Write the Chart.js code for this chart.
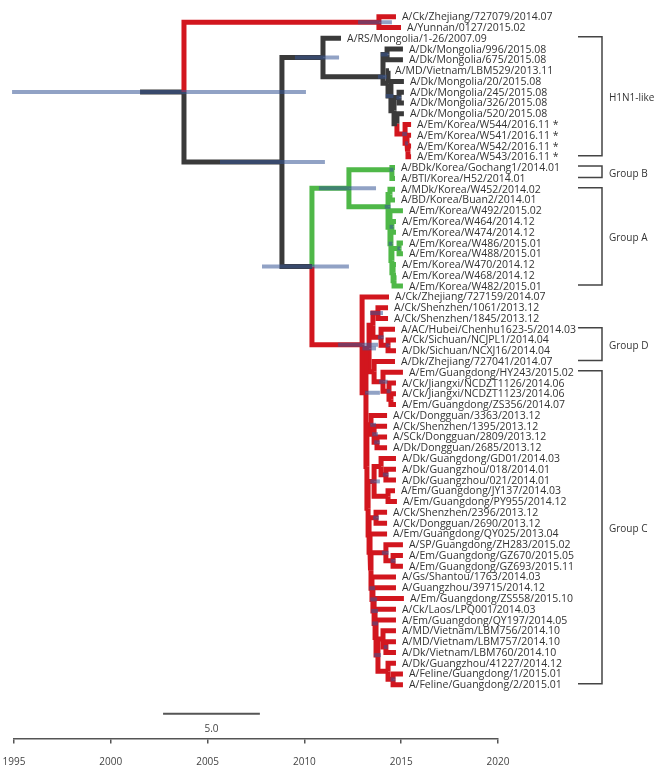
<!DOCTYPE html>
<html><head><meta charset="utf-8">
<script src="https://cdn.jsdelivr.net/npm/chart.js@4.4.0/dist/chart.umd.min.js"></script>
<style>html,body{margin:0;padding:0;background:#fff;}canvas{display:block;}</style>
</head><body>
<canvas id="c" width="665" height="771"></canvas>
<script>
// ---------- DATA ----------
const yearTicks = [1995, 2000, 2005, 2010, 2015, 2020];

const tipLabels = [
 'A/Ck/Zhejiang/727079/2014.07','A/Yunnan/0127/2015.02','A/RS/Mongolia/1-26/2007.09',
 'A/Dk/Mongolia/996/2015.08','A/Dk/Mongolia/675/2015.08','A/MD/Vietnam/LBM529/2013.11',
 'A/Dk/Mongolia/20/2015.08','A/Dk/Mongolia/245/2015.08','A/Dk/Mongolia/326/2015.08',
 'A/Dk/Mongolia/520/2015.08','A/Em/Korea/W544/2016.11 *','A/Em/Korea/W541/2016.11 *',
 'A/Em/Korea/W542/2016.11 *','A/Em/Korea/W543/2016.11 *','A/BDk/Korea/Gochang1/2014.01',
 'A/BTl/Korea/H52/2014.01','A/MDk/Korea/W452/2014.02','A/BD/Korea/Buan2/2014.01',
 'A/Em/Korea/W492/2015.02','A/Em/Korea/W464/2014.12','A/Em/Korea/W474/2014.12',
 'A/Em/Korea/W486/2015.01','A/Em/Korea/W488/2015.01','A/Em/Korea/W470/2014.12',
 'A/Em/Korea/W468/2014.12','A/Em/Korea/W482/2015.01','A/Ck/Zhejiang/727159/2014.07',
 'A/Ck/Shenzhen/1061/2013.12','A/Ck/Shenzhen/1845/2013.12','A/AC/Hubei/Chenhu1623-5/2014.03',
 'A/Ck/Sichuan/NCJPL1/2014.04','A/Dk/Sichuan/NCXJ16/2014.04','A/Dk/Zhejiang/727041/2014.07',
 'A/Em/Guangdong/HY243/2015.02','A/Ck/Jiangxi/NCDZT1126/2014.06','A/Ck/Jiangxi/NCDZT1123/2014.06',
 'A/Em/Guangdong/ZS356/2014.07','A/Ck/Dongguan/3363/2013.12','A/Ck/Shenzhen/1395/2013.12',
 'A/SCk/Dongguan/2809/2013.12','A/Dk/Dongguan/2685/2013.12','A/Dk/Guangdong/GD01/2014.03',
 'A/Dk/Guangzhou/018/2014.01','A/Dk/Guangzhou/021/2014.01','A/Em/Guangdong/JY137/2014.03',
 'A/Em/Guangdong/PY955/2014.12','A/Ck/Shenzhen/2396/2013.12','A/Ck/Dongguan/2690/2013.12',
 'A/Em/Guangdong/QY025/2013.04','A/SP/Guangdong/ZH283/2015.02','A/Em/Guangdong/GZ670/2015.05',
 'A/Em/Guangdong/GZ693/2015.11','A/Gs/Shantou/1763/2014.03','A/Guangzhou/39715/2014.12',
 'A/Em/Guangdong/ZS558/2015.10','A/Ck/Laos/LPQ001/2014.03','A/Em/Guangdong/QY197/2014.05',
 'A/MD/Vietnam/LBM756/2014.10','A/MD/Vietnam/LBM757/2014.10','A/Dk/Vietnam/LBM760/2014.10',
 'A/Dk/Guangzhou/41227/2014.12','A/Feline/Guangdong/1/2015.01','A/Feline/Guangdong/2/2015.01'
];

// tip end positions on the time axis
const tipX = [
 2014.73,2014.99,2011.89,2015.09,2015.09,2014.37,2015.14,2015.14,2015.14,2015.14,
 2015.51,2015.51,2015.51,2015.51,2014.68,2014.68,2014.68,2014.68,2015.09,2014.73,
 2014.73,2015.09,2015.09,2014.73,2014.73,2015.09,2014.37,2014.32,2014.32,2014.68,
 2014.73,2014.73,2014.68,2015.09,2014.73,2014.73,2014.73,2014.27,2014.27,2014.27,
 2014.27,2014.73,2014.73,2014.73,2014.68,2014.78,2014.27,2014.27,2014.27,2015.09,
 2015.09,2015.09,2014.73,2014.73,2015.14,2014.73,2014.73,2014.73,2014.73,2014.73,
 2014.73,2015.09,2015.09
];

// internal nodes: id, time, children (numbers = tip rows, strings = nodes)
const nodeIds = ['R0','N1','N2','N3','N5','N6','N7','N8','N9','N10','N11','N12','N13','N14',
 'N4','G0','GB','GA','A1','A2','A3','A4','A5','A6','A7','A8',
 'C0','C1','C2','C2a','C2a1','C2a2','C2a3','C2b','C2b1','C2b2','C2b3',
 'C3','C4','C4a','C4b','C5','C6','C6a','C6b','C6c','C7','C7a','C8','C9','C10','C10a',
 'C11','C12','C13','C14','C15','C16','C17','C17b','C18','C19'];
const nodeX = [2003.78,2013.85,2008.84,2010.96,2014.06,2014.27,2014.32,2014.47,2014.63,2014.89,2014.78,2015.20,2015.30,2015.35,
 2010.39,2012.30,2014.52,2014.32,2014.42,2014.42,2014.47,2014.52,2014.52,2014.89,2014.58,2014.63,
 2012.98,2013.18,2013.34,2013.54,2013.80,2013.96,2014.32,2013.60,2014.06,2014.37,2014.47,
 2013.23,2013.44,2013.60,2013.75,2013.29,2013.60,2013.96,2014.21,2014.32,2013.34,2013.70,2013.39,2013.44,2014.21,2014.58,
 2013.49,2013.54,2013.60,2013.65,2013.70,2013.80,2014.06,2014.21,2014.32,2014.58];
const nodeKids = [
 ['N1','N2'],[1,2],['N3','N4'],[3,'N5'],['N6','N7'],[4,5],[6,'N8'],[7,'N9'],['N10','N11'],[8,9],[10,'N12'],[11,'N13'],[12,'N14'],[13,14],
 ['G0','C0'],['GB','GA'],[15,16],['A1','A2'],[17,18],[19,'A3'],['A4','A5'],[20,21],['A6','A7'],[22,23],[24,'A8'],[25,26],
 [27,'C1'],['C2','C3'],['C2a','C2b'],['C2a1','C2a2'],[28,29],[30,'C2a3'],[31,32],[33,'C2b1'],[34,'C2b2'],[35,'C2b3'],[36,37],
 ['C4','C5'],[38,'C4a'],[39,'C4b'],[40,41],['C6','C7'],['C6a','C6c'],[42,'C6b'],[43,44],[45,46],['C7a','C8'],[47,48],[49,'C9'],['C10','C11'],[50,'C10a'],[51,52],
 [53,'C12'],[54,'C13'],[55,'C14'],[56,'C15'],[57,'C16'],['C17','C18'],[58,'C17b'],[59,60],[61,'C19'],[62,63]
];
// node rows read where they differ from the midpoint of their children
const nodeYFixed = {N5: 6.57, GB: 15.2, GA: 18.64, C1: 35.9};

// 95% HPD intervals of node ages
const hpdNodes = ['R0','N1','N2','N3','N4','G0','C0','N5','N6','N8','N10','N12','N13','GB','GA','A3','A4','A6',
 'C1','C2','C2a1','C2a2','C2a3','C2b1','C2b2','C4','C4a','C4b','C6','C6b','C7a','C10','C10a','C11','C12','C13','C14','C16','C17b','C19'];
const hpdLow  = [1994.90,2012.77,2005.64,2009.51,2007.81,2010.75,2011.74,2013.80,2013.95,2014.20,2014.75,2015.05,2015.20,2014.40,2014.15,2014.35,2014.40,2014.80,
 2013.13,2013.00,2013.39,2013.80,2014.20,2013.85,2014.25,2013.40,2013.50,2013.60,2013.40,2014.05,2013.55,2014.00,2014.45,2013.35,2013.40,2013.45,2013.50,2013.60,2014.10,2014.45];
const hpdHigh = [2010.08,2014.52,2011.06,2011.79,2012.30,2013.70,2013.80,2014.25,2014.35,2014.60,2015.00,2015.30,2015.35,2014.60,2014.45,2014.55,2014.60,2014.95,
 2013.90,2013.70,2014.06,2014.10,2014.40,2014.30,2014.45,2013.70,2013.80,2013.90,2013.90,2014.35,2013.85,2014.35,2014.70,2013.65,2013.75,2013.80,2013.80,2013.95,2014.30,2014.70];

const stemStart = 2001.51;
const groupNames = ['H1N1-like','Group B','Group A','Group D','Group C'];
const groupFirst = [3,15,17,30,34];
const groupLast  = [14,16,26,33,63];
const scaleBar = [2002.7, 2007.7];
const scaleBarRow = 65.7;
const scaleBarLabel = '5.0';
const scaleBarLabelRow = 67.1;

// ---------- STYLE ----------
const RED = '#d2161e', BLACK = '#3a3a3a', GREEN = '#4fb848';
const cladeColour = {R0: BLACK, N1: RED, N12: RED, G0: GREEN, C0: RED};

// ---------- TREE HELPERS ----------
const parentOf = {};
nodeIds.forEach((id, k) => nodeKids[k].forEach(c => parentOf[c] = id));
function X(id){ return typeof id === 'number' ? tipX[id-1] : nodeX[nodeIds.indexOf(id)]; }
function Y(id){
  if (typeof id === 'number') return id;
  if (nodeYFixed[id] != null) return nodeYFixed[id];
  const kids = nodeKids[nodeIds.indexOf(id)];
  return (Y(kids[0]) + Y(kids[kids.length-1])) / 2;
}
function colour(id){ return cladeColour[id] || colour(parentOf[id]); }

const datasets = [];
const allIds = nodeIds.concat(tipLabels.map((_, i) => i+1));
allIds.forEach(id => {
  if (id === 'R0') return;
  const p = parentOf[id];
  datasets.push({
    data: [{x: X(p), y: Y(p)}, {x: X(p), y: Y(id)}, {x: X(id), y: Y(id)}],
    borderColor: colour(id), borderWidth: 5, order: 2
  });
});
datasets.push({data: [{x: stemStart, y: Y('R0')}, {x: X('R0'), y: Y('R0')}], borderColor: BLACK, borderWidth: 5, order: 2});
hpdNodes.forEach((id, i) => {
  datasets.push({data: [{x: hpdLow[i], y: Y(id)}, {x: hpdHigh[i], y: Y(id)}],
    borderColor: 'rgba(55,85,150,0.55)', borderWidth: 4, order: 1});
});
datasets.push({data: [{x: scaleBar[0], y: scaleBarRow}, {x: scaleBar[1], y: scaleBarRow}],
  borderColor: '#555', borderWidth: 2, order: 0});
datasets.forEach(d => Object.assign(d, {showLine: true, pointRadius: 0, fill: false, tension: 0,
  borderJoinStyle: 'miter', borderCapStyle: 'butt', clip: false}));

const FONT = '"Open Sans", "DejaVu Sans", sans-serif';
const labelPlugin = {
  id: 'treeLabels',
  afterDatasetsDraw(chart){
    const {ctx, scales: {x, y}} = chart;
    ctx.save();
    ctx.font = '10.5px ' + FONT;
    ctx.fillStyle = '#333';
    ctx.textBaseline = 'middle';
    ctx.textAlign = 'left';
    tipLabels.forEach((t, i) => ctx.fillText(t, x.getPixelForValue(tipX[i]) + 6, y.getPixelForValue(i+1) + 0.5));
    ctx.font = '10px ' + FONT;
    ctx.strokeStyle = '#444';
    ctx.lineWidth = 1.5;
    groupNames.forEach((g, i) => {
      const y1 = y.getPixelForValue(groupFirst[i]) - 1.5;
      const y2 = y.getPixelForValue(groupLast[i]) - 1;
      ctx.beginPath();
      ctx.moveTo(578, y1); ctx.lineTo(602, y1); ctx.lineTo(602, y2); ctx.lineTo(578, y2);
      ctx.stroke();
      ctx.fillText(g, 609, (y1 + y2) / 2 + 2);
    });
    ctx.textAlign = 'center';
    ctx.fillStyle = '#444';
    ctx.fillText(scaleBarLabel, x.getPixelForValue((scaleBar[0] + scaleBar[1]) / 2), y.getPixelForValue(scaleBarLabelRow));
    ctx.restore();
  }
};

new Chart(document.getElementById('c'), {
  type: 'scatter',
  data: {datasets},
  options: {
    responsive: false,
    animation: false,
    events: [],
    layout: {padding: {left: 14, right: 167, top: 6, bottom: 0}},
    plugins: {legend: {display: false}, tooltip: {enabled: false}},
    scales: {
      x: {
        type: 'linear', min: yearTicks[0], max: yearTicks[yearTicks.length-1],
        afterBuildTicks(axis){ axis.ticks = yearTicks.map(v => ({value: v})); },
        ticks: {callback: v => String(v), font: {family: FONT, size: 10}, color: '#444', padding: 13, maxRotation: 0},
        grid: {drawOnChartArea: false, drawTicks: true, tickLength: 5, color: '#555', lineWidth: 1.5},
        border: {display: true, color: '#555', width: 1.5},
        afterFit(axis){ axis.height = 32.4; axis.paddingLeft = 0; axis.paddingRight = 0; }
      },
      y: {type: 'linear', min: 0, max: 68, reverse: true, display: false}
    }
  },
  plugins: [labelPlugin]
});
</script>
</body></html>
